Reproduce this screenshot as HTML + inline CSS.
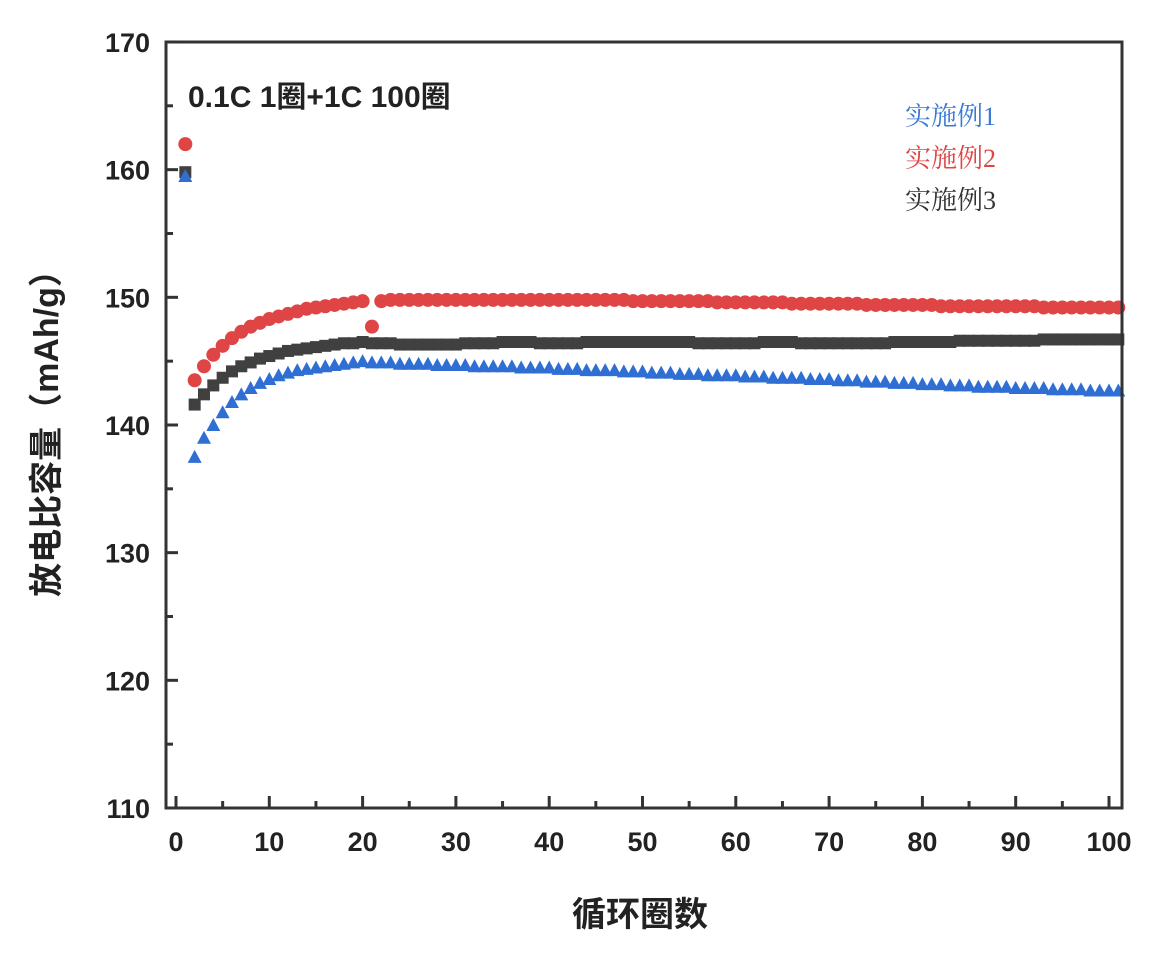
<!DOCTYPE html>
<html><head><meta charset="utf-8"><style>body{margin:0;background:#fff}svg text{font-family:"Liberation Sans","Noto Sans CJK SC",sans-serif}</style></head>
<body>
<svg id="chart" width="1156" height="950" xmlns="http://www.w3.org/2000/svg">
<rect x="0" y="0" width="1156" height="950" fill="#fff"/>
<g id="marks"></g>
<rect x="166" y="42" width="956" height="766" fill="none" stroke="#333" stroke-width="3"/>
<g id="axes"></g>
<text x="188" y="107" font-size="30" font-weight="bold" fill="#222">0.1C 1圈+1C 100圈</text>
<text x="905" y="125" font-size="26" fill="#3a78d6" style="font-family:'Liberation Serif','Noto Serif CJK SC',serif">实施例1</text>
<text x="905" y="167" font-size="26" fill="#e04545" style="font-family:'Liberation Serif','Noto Serif CJK SC',serif">实施例2</text>
<text x="905" y="209" font-size="26" fill="#333" style="font-family:'Liberation Serif','Noto Serif CJK SC',serif">实施例3</text>
<text transform="translate(58,425) rotate(-90)" text-anchor="middle" font-size="34" font-weight="bold" fill="#222">放电比容量（mAh/g）</text>
<text x="640" y="926" text-anchor="middle" font-size="34" font-weight="bold" fill="#222">循环圈数</text>
</svg>
<script>
const xTicks=[0,10,20,30,40,50,60,70,80,90,100];
const yTicks=[110,120,130,140,150,160,170];
const series1=[159.5,137.5,139.0,140.0,141.0,141.8,142.4,142.9,143.3,143.6,143.9,144.1,144.3,144.4,144.5,144.6,144.7,144.8,144.9,145.0,144.9,144.9,144.9,144.8,144.8,144.8,144.8,144.7,144.7,144.7,
144.7,144.6,144.6,144.6,144.6,144.6,144.5,144.5,144.5,144.5,144.4,144.4,144.4,144.3,144.3,144.3,144.3,144.2,144.2,144.2,
144.1,144.1,144.1,144.0,144.0,144.0,143.9,143.9,143.9,143.9,143.8,143.8,143.8,143.7,143.7,143.7,143.7,143.6,143.6,143.6,
143.5,143.5,143.5,143.4,143.4,143.4,143.3,143.3,143.3,143.2,143.2,143.2,143.1,143.1,143.1,143.0,143.0,143.0,143.0,142.9,
142.9,142.9,142.9,142.8,142.8,142.8,142.8,142.7,142.7,142.7,142.7];
const series2=[162.0,143.5,144.6,145.5,146.2,146.8,147.3,147.7,148.0,148.3,148.5,148.7,148.9,149.1,149.2,149.3,149.4,149.5,149.6,149.7,147.7,149.7,149.8,149.8,149.8,149.8,149.8,149.8,149.8,149.8,
149.8,149.8,149.8,149.8,149.8,149.8,149.8,149.8,149.8,149.8,149.8,149.8,149.8,149.8,149.8,149.8,149.8,149.8,149.7,149.7,
149.7,149.7,149.7,149.7,149.7,149.7,149.7,149.6,149.6,149.6,149.6,149.6,149.6,149.6,149.6,149.5,149.5,149.5,149.5,149.5,
149.5,149.5,149.5,149.4,149.4,149.4,149.4,149.4,149.4,149.4,149.4,149.3,149.3,149.3,149.3,149.3,149.3,149.3,149.3,149.3,
149.3,149.3,149.2,149.2,149.2,149.2,149.2,149.2,149.2,149.2,149.2];
const series3=[159.8,141.6,142.4,143.1,143.7,144.2,144.6,144.9,145.2,145.4,145.6,145.8,145.9,146.0,146.1,146.2,146.3,146.4,146.4,146.5,146.4,146.4,146.4,146.3,146.3,146.3,146.3,146.3,146.3,146.3,
146.4,146.4,146.4,146.4,146.5,146.5,146.5,146.5,146.4,146.4,146.4,146.4,146.4,146.5,146.5,146.5,146.5,146.5,146.5,146.5,
146.5,146.5,146.5,146.5,146.5,146.4,146.4,146.4,146.4,146.4,146.4,146.4,146.5,146.5,146.5,146.5,146.4,146.4,146.4,146.4,
146.4,146.4,146.4,146.4,146.4,146.4,146.5,146.5,146.5,146.5,146.5,146.5,146.5,146.6,146.6,146.6,146.6,146.6,146.6,146.6,
146.6,146.6,146.7,146.7,146.7,146.7,146.7,146.7,146.7,146.7,146.7];
const NS='http://www.w3.org/2000/svg';
const X=v=>176+v*9.33;
const Y=v=>808-(v-110)*12.767;
const axes=document.getElementById('axes'),marks=document.getElementById('marks');
function mk(tag,attrs,parent){const e=document.createElementNS(NS,tag);for(const k in attrs)e.setAttribute(k,attrs[k]);parent.appendChild(e);return e;}
xTicks.forEach(t=>{
  const l=mk('line',{x1:X(t),x2:X(t),y1:808,y2:796,stroke:'#333','stroke-width':3},axes);
  
  
  if(t<100){const m=mk('line',{x1:X(t+5),x2:X(t+5),y1:808,y2:801,stroke:'#333','stroke-width':3},axes);
  
  }
  const tx=mk('text',{x:X(t),y:851,'text-anchor':'middle','font-size':27,'font-weight':'bold',fill:'#222'},axes);
  tx.textContent=t;
  
  
});
yTicks.forEach(t=>{
  const l=mk('line',{x1:166,x2:178,y1:Y(t),y2:Y(t),stroke:'#333','stroke-width':3},axes);
  
  
  if(t<170){const m=mk('line',{x1:166,x2:173,y1:Y(t+5),y2:Y(t+5),stroke:'#333','stroke-width':3},axes);
  
  }
  const tx=mk('text',{x:150,y:Y(t)+10,'text-anchor':'end','font-size':27,'font-weight':'bold',fill:'#222'},axes);
  tx.textContent=t;
  
  
});
series3.forEach((v,i)=>{
  const e=mk('rect',{x:X(i+1)-6,y:Y(v)-6,width:12,height:12,fill:'#404040'},marks);
  
  
});
series2.forEach((v,i)=>{
  const e=mk('circle',{cx:X(i+1),cy:Y(v),r:7,fill:'#e04545'},marks);
  
  
});
series1.forEach((v,i)=>{
  const x=X(i+1),y=Y(v);
  const e=mk('polygon',{points:`${x-7},${y+6} ${x+7},${y+6} ${x},${y-7}`,fill:'#2f6fd3'},marks);
  
  
});
</script>
</body></html>
